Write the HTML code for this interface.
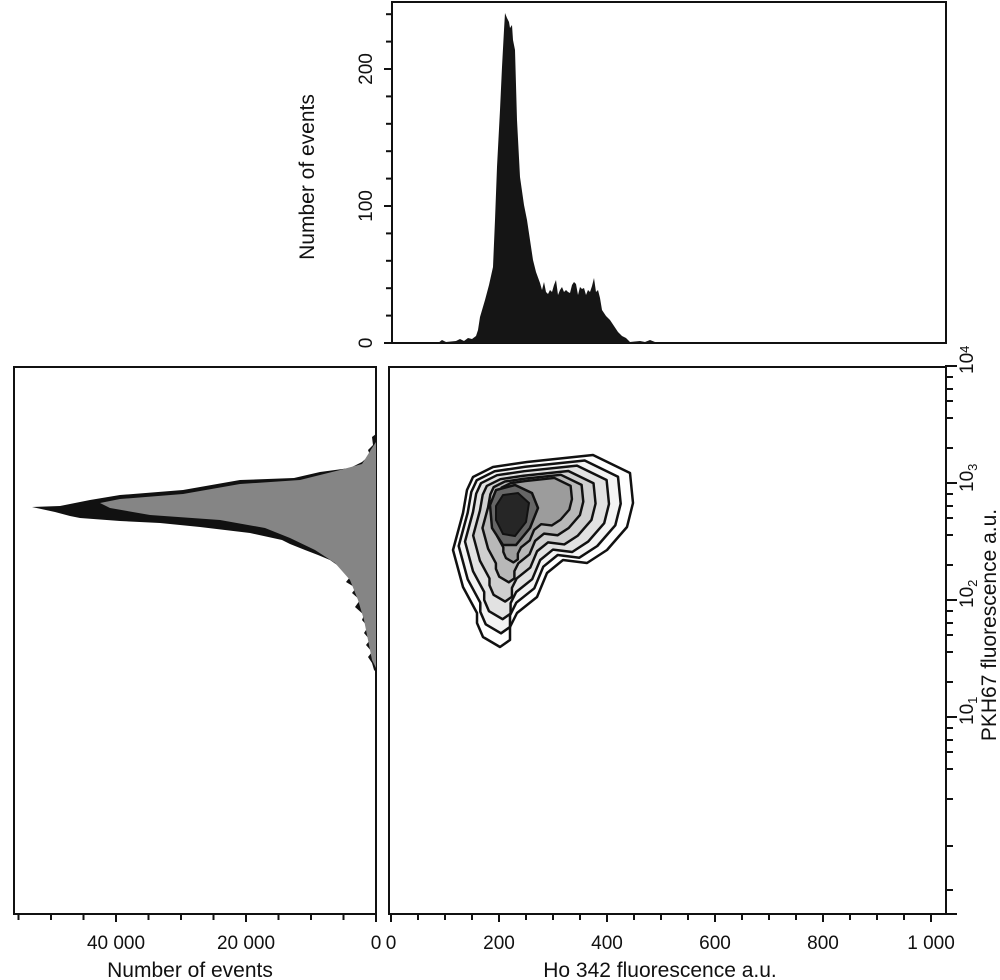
<!DOCTYPE html>
<html><head><style>
html,body{margin:0;padding:0;background:#fff}
svg{display:block}
text{font-family:"Liberation Sans",sans-serif;fill:#111}
</style></head><body>
<svg width="1000" height="980" viewBox="0 0 1000 980" xmlns="http://www.w3.org/2000/svg">
<defs>
<polygon id="ct" points="473,477 493,467 527,462 593,455 630,473 633,503 627,527 607,550 587,563 563,560 547,573 537,597 517,613 510,627 510,640 500,647 483,637 477,623 477,613 463,587 453,550 463,513 467,490"/>
</defs>
<!-- top panel -->
<rect x="392" y="2" width="554" height="341" fill="none" stroke="#111" stroke-width="2"/>
<polygon fill="#151515" points="438,343 442,340 446,342 456,341 460,339 464,341 468,338 472,339 476,336 478,330 480,317 485,300 489,285 493,267 495,220 497,167 500,110 502,67 504,30 505,13 507,18 509,22 510,28 512,25 513,40 515,50 517,120 520,177 524,205 527,220 530,240 533,260 536,272 540,283 542,290 544,282 546,292 548,294 550,290 552,292 554,285 556,280 558,295 560,290 562,287 564,292 566,290 568,292 570,293 572,285 574,282 576,284 578,295 580,287 582,289 584,288 586,295 588,290 590,292 592,286 594,278 596,292 598,290 600,298 602,310 606,316 610,320 614,326 618,332 622,336 626,338 630,342 640,341 645,342 650,340 655,342 660,343"/>
<g stroke="#111" stroke-width="2">
<line x1="384" y1="343" x2="392" y2="343"/><line x1="386" y1="315.6" x2="392" y2="315.6"/><line x1="386" y1="288.2" x2="392" y2="288.2"/><line x1="386" y1="260.8" x2="392" y2="260.8"/><line x1="386" y1="233.4" x2="392" y2="233.4"/><line x1="384" y1="206" x2="392" y2="206"/><line x1="386" y1="178.6" x2="392" y2="178.6"/><line x1="386" y1="151.2" x2="392" y2="151.2"/><line x1="386" y1="123.8" x2="392" y2="123.8"/><line x1="386" y1="96.4" x2="392" y2="96.4"/><line x1="384" y1="69" x2="392" y2="69"/><line x1="386" y1="41.6" x2="392" y2="41.6"/><line x1="386" y1="14.2" x2="392" y2="14.2"/>
</g>
<text transform="translate(372 343) rotate(-90)" font-size="19" text-anchor="middle">0</text>
<text transform="translate(372 206) rotate(-90)" font-size="19" text-anchor="middle">100</text>
<text transform="translate(372 69) rotate(-90)" font-size="19" text-anchor="middle">200</text>
<text transform="translate(314 177) rotate(-90)" font-size="21" text-anchor="middle">Number of events</text>

<!-- left panel -->
<rect x="14" y="367" width="362" height="547" fill="none" stroke="#111" stroke-width="2"/>
<polygon fill="#111" points="376,434 372,437 373,445 368,450 370,455 362,462 350,468 320,472 294,478 240,480 183,490 120,495 90,500 60,506 32,507 55,512 70,516 80,518 120,521 160,523 200,527 250,533 282,540 290,544 305,550 318,555 330,560 340,567 350,577 346,582 356,588 352,593 360,600 355,607 364,615 362,620 368,627 364,633 370,640 366,645 372,652 368,657 372,663 374,670 376,672"/>
<polygon fill="#858585" points="376,442 372,448 362,464 340,470 300,480 240,484 183,494 120,499 100,503 110,508 150,515 220,520 265,528 290,538 315,550 335,563 350,580 358,600 364,620 368,640 372,660 376,668"/>
<g stroke="#111" stroke-width="2">
<line x1="376" y1="914" x2="376" y2="922"/><line x1="343.5" y1="914" x2="343.5" y2="920"/><line x1="311" y1="914" x2="311" y2="920"/><line x1="278.5" y1="914" x2="278.5" y2="920"/><line x1="246" y1="914" x2="246" y2="922"/><line x1="213.5" y1="914" x2="213.5" y2="920"/><line x1="181" y1="914" x2="181" y2="920"/><line x1="148.5" y1="914" x2="148.5" y2="920"/><line x1="116" y1="914" x2="116" y2="922"/><line x1="83.5" y1="914" x2="83.5" y2="920"/><line x1="51" y1="914" x2="51" y2="920"/><line x1="18.5" y1="914" x2="18.5" y2="920"/>
</g>
<text x="116" y="949" font-size="19" text-anchor="middle">40 000</text>
<text x="246" y="949" font-size="19" text-anchor="middle">20 000</text>
<text x="376" y="949" font-size="19" text-anchor="middle">0</text>
<text x="190" y="977" font-size="21" text-anchor="middle">Number of events</text>

<!-- main panel -->
<rect x="389" y="367" width="557" height="547" fill="none" stroke="#111" stroke-width="2"/>
<line x1="389" y1="914" x2="957" y2="914" stroke="#111" stroke-width="2"/>
<g stroke="#111" stroke-width="2">
<line x1="391" y1="914" x2="391" y2="922"/><line x1="418" y1="914" x2="418" y2="920"/><line x1="445" y1="914" x2="445" y2="920"/><line x1="472" y1="914" x2="472" y2="920"/><line x1="499" y1="914" x2="499" y2="922"/><line x1="526" y1="914" x2="526" y2="920"/><line x1="553" y1="914" x2="553" y2="920"/><line x1="580" y1="914" x2="580" y2="920"/><line x1="607" y1="914" x2="607" y2="922"/><line x1="634" y1="914" x2="634" y2="920"/><line x1="661" y1="914" x2="661" y2="920"/><line x1="688" y1="914" x2="688" y2="920"/><line x1="715" y1="914" x2="715" y2="922"/><line x1="742" y1="914" x2="742" y2="920"/><line x1="769" y1="914" x2="769" y2="920"/><line x1="796" y1="914" x2="796" y2="920"/><line x1="823" y1="914" x2="823" y2="922"/><line x1="850" y1="914" x2="850" y2="920"/><line x1="877" y1="914" x2="877" y2="920"/><line x1="904" y1="914" x2="904" y2="920"/><line x1="931" y1="914" x2="931" y2="922"/>
</g>
<text x="391" y="949" font-size="19" text-anchor="middle">0</text>
<text x="499" y="949" font-size="19" text-anchor="middle">200</text>
<text x="607" y="949" font-size="19" text-anchor="middle">400</text>
<text x="715" y="949" font-size="19" text-anchor="middle">600</text>
<text x="823" y="949" font-size="19" text-anchor="middle">800</text>
<text x="931" y="949" font-size="19" text-anchor="middle">1 000</text>
<text x="660" y="977" font-size="21" text-anchor="middle">Ho 342 fluorescence a.u.</text>

<!-- right log axis -->
<g stroke="#111" stroke-width="2">
<line x1="945" y1="366" x2="957" y2="366"/><line x1="945" y1="483" x2="957" y2="483"/><line x1="945" y1="600" x2="957" y2="600"/><line x1="945" y1="717" x2="957" y2="717"/>
<line x1="945" y1="377" x2="953" y2="377"/><line x1="945" y1="389" x2="953" y2="389"/><line x1="945" y1="401" x2="953" y2="401"/><line x1="945" y1="418" x2="953" y2="418"/><line x1="945" y1="448" x2="953" y2="448"/>
<line x1="945" y1="494" x2="953" y2="494"/><line x1="945" y1="506" x2="953" y2="506"/><line x1="945" y1="518" x2="953" y2="518"/><line x1="945" y1="535" x2="953" y2="535"/><line x1="945" y1="565" x2="953" y2="565"/>
<line x1="945" y1="611" x2="953" y2="611"/><line x1="945" y1="623" x2="953" y2="623"/><line x1="945" y1="635" x2="953" y2="635"/><line x1="945" y1="652" x2="953" y2="652"/><line x1="945" y1="682" x2="953" y2="682"/>
<line x1="945" y1="728" x2="953" y2="728"/><line x1="945" y1="740" x2="953" y2="740"/><line x1="945" y1="752" x2="953" y2="752"/><line x1="945" y1="769" x2="953" y2="769"/><line x1="945" y1="799" x2="953" y2="799"/>
<line x1="945" y1="846" x2="953" y2="846"/><line x1="945" y1="890" x2="953" y2="890"/>
</g>
<g font-size="19">
<text transform="translate(973 374) rotate(-90)">10<tspan font-size="13" dy="-4">4</tspan></text>
<text transform="translate(973 492) rotate(-90)">10<tspan font-size="13" dy="4">3</tspan></text>
<text transform="translate(973 608) rotate(-90)">10<tspan font-size="13" dy="4">2</tspan></text>
<text transform="translate(973 725) rotate(-90)">10<tspan font-size="13" dy="4">1</tspan></text>
</g>
<text transform="translate(996 625) rotate(-90)" font-size="21" text-anchor="middle">PKH67 fluorescence a.u.</text>

<!-- contours -->
<g stroke="#111" stroke-width="2.5" stroke-linejoin="round">
<use href="#ct" fill="#ffffff"/>
<g transform="translate(510 510) scale(0.9) translate(-510 -510)"><use href="#ct" fill="#f4f4f4" stroke-width="2.8"/></g>
<g transform="translate(513 508) scale(0.8) translate(-513 -508)"><use href="#ct" fill="#e2e2e2" stroke-width="3.1"/></g>
<g transform="translate(516 505) scale(0.68) translate(-516 -505)"><use href="#ct" fill="#cfcfcf" stroke-width="3.6"/></g>
<g transform="translate(520 500) scale(0.56) translate(-520 -500)"><use href="#ct" fill="#b8b8b8" stroke-width="4.4"/></g>
<g transform="translate(524 496) scale(0.44) translate(-524 -496)"><use href="#ct" fill="#9c9c9c" stroke-width="5.5"/></g>
</g>
<polygon points="490,505 496,490 515,485 532,493 538,508 530,528 516,545 503,545 492,528" fill="#666" stroke="#111" stroke-width="2.5"/>
<polygon points="496,506 503,495 518,493 529,503 526,522 515,536 503,534 496,520" fill="#262626" stroke="#111" stroke-width="2"/>
</svg>
</body></html>
